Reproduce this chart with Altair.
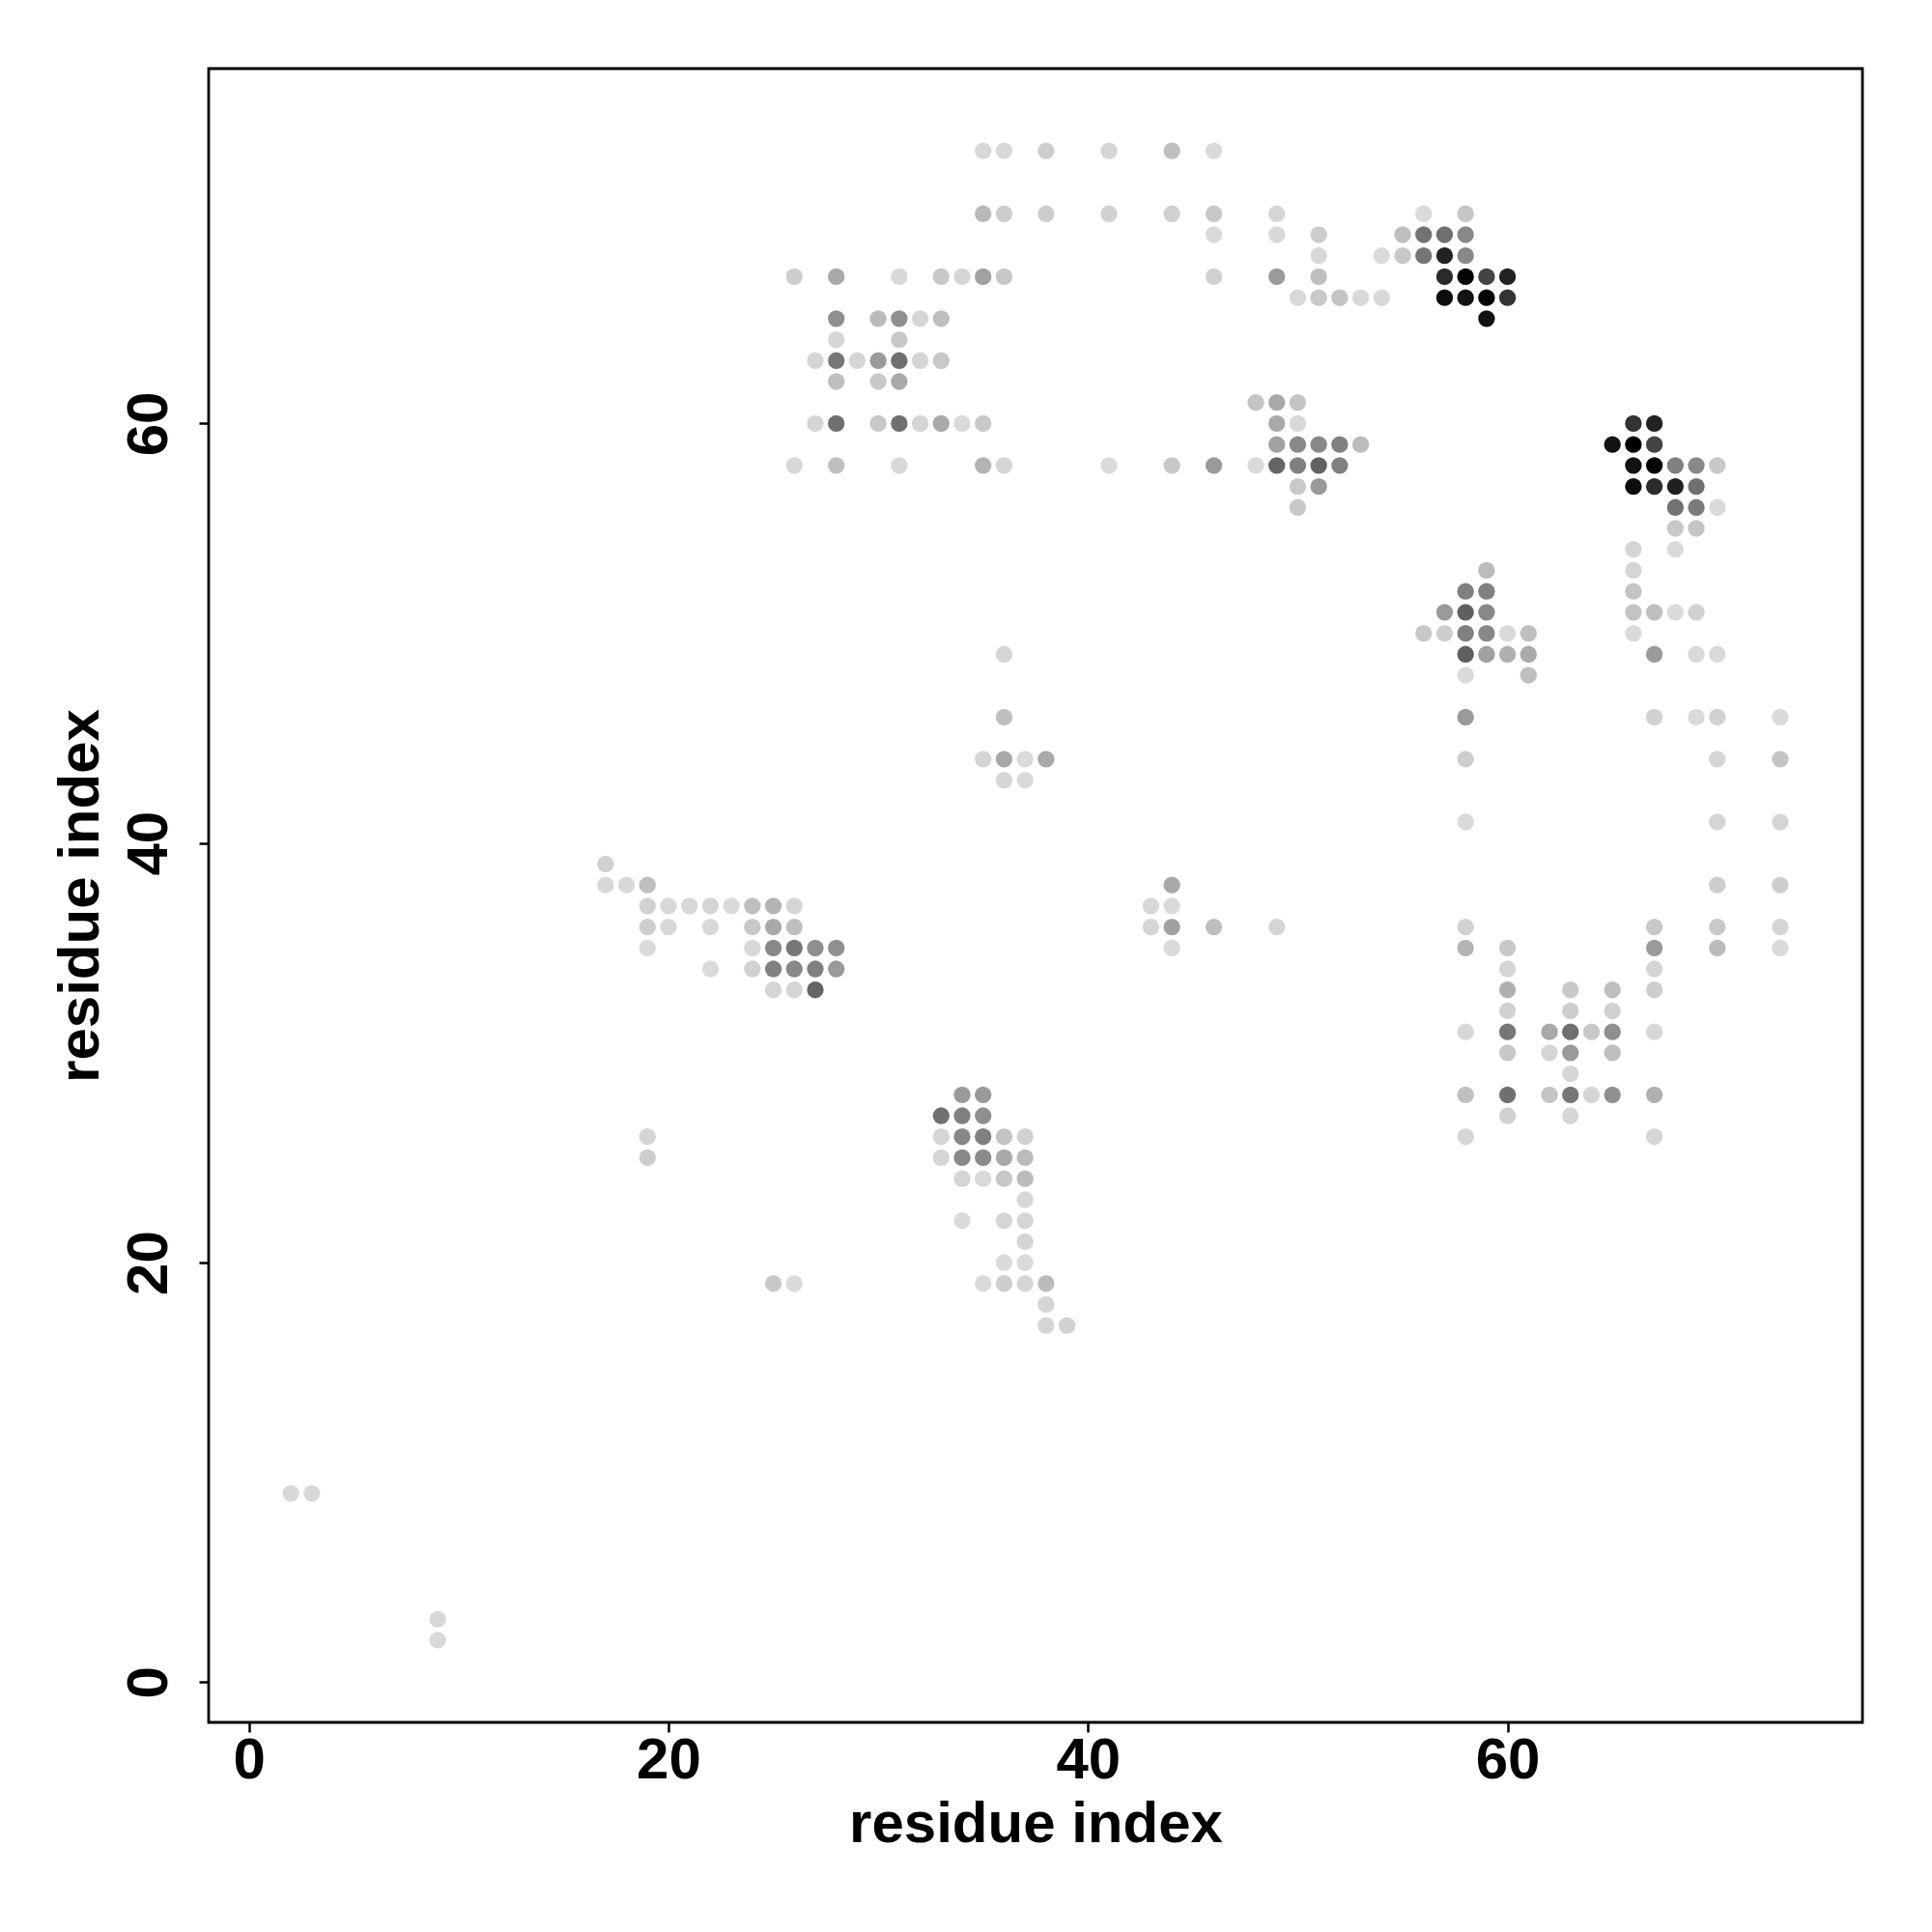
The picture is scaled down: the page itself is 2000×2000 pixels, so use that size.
import altair as alt
import pandas as pd

# contact map: residue i (x), residue j (y), contact score (0..1, darker = stronger)
res_i = [
    35, 36, 38, 41, 44, 46,
    35, 36, 38, 41, 44, 46, 49, 56, 58,
    46, 49, 51, 55, 56, 57, 58,
    51, 54, 55, 56, 57, 58,
    26, 28, 31, 33, 34, 35, 36, 46, 49, 51, 57, 58, 59, 60,
    50, 51, 52, 53, 54, 57, 58, 59, 60,
    28, 30, 31, 32, 33, 59,
    28, 31,
    27, 28, 29, 30, 31, 32, 33,
    28, 30, 31,
    48, 49, 50,
    27, 28, 30, 31, 32, 33, 34, 35, 49, 50, 66, 67,
    49, 50, 51, 52, 53, 65, 66, 67,
    26, 28, 31, 35, 36, 41, 44, 46, 48, 49, 50, 51, 52, 66, 67, 68, 69, 70,
    50, 51, 66, 67, 68, 69,
    50, 68, 69, 70,
    68, 69,
    66, 68,
    59, 66,
    58, 59, 66,
    57, 58, 59, 66, 67, 68, 69,
    56, 57, 58, 59, 60, 61, 66,
    36, 58, 59, 60, 61, 67, 69, 70,
    58, 61,
    36, 58, 67, 69, 70, 73,
    35, 36, 37, 38, 58, 70, 73,
    36, 37,
    58, 70, 73,
    17,
    17, 18, 19, 44, 70, 73,
    19, 20, 21, 22, 23, 24, 25, 26, 43, 44,
    19, 20, 22, 24, 25, 26, 43, 44, 46, 49, 58, 67, 70, 73,
    19, 24, 25, 26, 27, 28, 44, 58, 60, 67, 70, 73,
    22, 24, 25, 26, 27, 28, 60, 67,
    25, 26, 27, 60, 63, 65, 67,
    60, 63, 65,
    58, 60, 62, 63, 64, 65, 67,
    60, 62, 63, 65,
    63,
    34, 35, 58, 60, 62, 63, 64, 65, 67,
    33, 34, 35, 60, 63,
    19, 33, 34, 35, 36, 37, 58, 67,
    19, 33, 34, 35, 36, 37,
    34, 35, 36, 37,
    37,
    34, 36, 37,
    37,
    36, 37,
    25, 26, 35, 36, 37, 38,
    38,
    38, 39,
    2, 3,
    9,
    9,
]

res_j = [
    73, 73, 73, 73, 73, 73,
    70, 70, 70, 70, 70, 70, 70, 70, 70,
    69, 69, 69, 69, 69, 69, 69,
    68, 68, 68, 68, 68, 68,
    67, 67, 67, 67, 67, 67, 67, 67, 67, 67, 67, 67, 67, 67,
    66, 66, 66, 66, 66, 66, 66, 66, 66,
    65, 65, 65, 65, 65, 65,
    64, 64,
    63, 63, 63, 63, 63, 63, 63,
    62, 62, 62,
    61, 61, 61,
    60, 60, 60, 60, 60, 60, 60, 60, 60, 60, 60, 60,
    59, 59, 59, 59, 59, 59, 59, 59,
    58, 58, 58, 58, 58, 58, 58, 58, 58, 58, 58, 58, 58, 58, 58, 58, 58, 58,
    57, 57, 57, 57, 57, 57,
    56, 56, 56, 56,
    55, 55,
    54, 54,
    53, 53,
    52, 52, 52,
    51, 51, 51, 51, 51, 51, 51,
    50, 50, 50, 50, 50, 50, 50,
    49, 49, 49, 49, 49, 49, 49, 49,
    48, 48,
    46, 46, 46, 46, 46, 46,
    44, 44, 44, 44, 44, 44, 44,
    43, 43,
    41, 41, 41,
    39,
    38, 38, 38, 38, 38, 38,
    37, 37, 37, 37, 37, 37, 37, 37, 37, 37,
    36, 36, 36, 36, 36, 36, 36, 36, 36, 36, 36, 36, 36, 36,
    35, 35, 35, 35, 35, 35, 35, 35, 35, 35, 35, 35,
    34, 34, 34, 34, 34, 34, 34, 34,
    33, 33, 33, 33, 33, 33, 33,
    32, 32, 32,
    31, 31, 31, 31, 31, 31, 31,
    30, 30, 30, 30,
    29,
    28, 28, 28, 28, 28, 28, 28, 28, 28,
    27, 27, 27, 27, 27,
    26, 26, 26, 26, 26, 26, 26, 26,
    25, 25, 25, 25, 25, 25,
    24, 24, 24, 24,
    23,
    22, 22, 22,
    21,
    20, 20,
    19, 19, 19, 19, 19, 19,
    18,
    17, 17,
    9, 9,
    3,
    2,
]

score = [
    0.02, 0.02, 0.07, 0.03, 0.13, 0.01,
    0.16, 0.07, 0.07, 0.05, 0.05, 0.09, 0.03, 0.01, 0.10,
    0.01, 0.02, 0.07, 0.13, 0.48, 0.49, 0.38,
    0.02, 0.01, 0.09, 0.47, 0.85, 0.38,
    0.07, 0.23, 0.02, 0.09, 0.03, 0.27, 0.09, 0.05, 0.30, 0.13, 0.81, 0.98, 0.69, 0.85,
    0.02, 0.09, 0.11, 0.02, 0.02, 0.94, 0.91, 1.00, 0.77,
    0.35, 0.15, 0.35, 0.03, 0.13, 0.92,
    0.03, 0.09,
    0.03, 0.46, 0.03, 0.30, 0.49, 0.03, 0.09,
    0.13, 0.09, 0.23,
    0.11, 0.23, 0.11,
    0.03, 0.49, 0.09, 0.49, 0.03, 0.23, 0.01, 0.09, 0.23, 0.02, 0.77, 0.85,
    0.27, 0.38, 0.38, 0.42, 0.15, 0.92, 1.00, 0.69,
    0.02, 0.13, 0.02, 0.18, 0.03, 0.01, 0.09, 0.30, 0.01, 0.54, 0.42, 0.56, 0.42, 0.92, 1.00, 0.42, 0.38, 0.09,
    0.09, 0.30, 0.94, 0.81, 0.86, 0.49,
    0.09, 0.48, 0.44, 0.01,
    0.09, 0.11,
    0.03, 0.01,
    0.15, 0.03,
    0.42, 0.42, 0.11,
    0.30, 0.57, 0.38, 0.11, 0.13, 0.01, 0.05,
    0.09, 0.07, 0.42, 0.38, 0.01, 0.13, 0.01,
    0.03, 0.57, 0.27, 0.20, 0.23, 0.30, 0.01, 0.01,
    0.01, 0.13,
    0.13, 0.30, 0.05, 0.01, 0.05, 0.01,
    0.03, 0.23, 0.01, 0.23, 0.07, 0.03, 0.11,
    0.03, 0.01,
    0.01, 0.03, 0.03,
    0.05,
    0.02, 0.02, 0.13, 0.23, 0.07, 0.07,
    0.05, 0.02, 0.02, 0.03, 0.01, 0.13, 0.18, 0.03, 0.02, 0.01,
    0.07, 0.02, 0.02, 0.09, 0.23, 0.13, 0.03, 0.27, 0.13, 0.03, 0.05, 0.09, 0.09, 0.03,
    0.01, 0.02, 0.38, 0.46, 0.35, 0.35, 0.01, 0.18, 0.09, 0.30, 0.15, 0.01,
    0.01, 0.05, 0.42, 0.38, 0.42, 0.30, 0.03, 0.03,
    0.03, 0.03, 0.54, 0.20, 0.09, 0.13, 0.07,
    0.05, 0.07, 0.05,
    0.02, 0.46, 0.23, 0.49, 0.09, 0.35, 0.02,
    0.09, 0.03, 0.30, 0.13,
    0.03,
    0.30, 0.30, 0.13, 0.49, 0.11, 0.46, 0.03, 0.35, 0.20,
    0.49, 0.42, 0.35, 0.05, 0.03,
    0.03, 0.03, 0.38, 0.42, 0.11, 0.05, 0.03, 0.03,
    0.07, 0.03, 0.38, 0.37, 0.23, 0.15,
    0.03, 0.01, 0.09, 0.15,
    0.02,
    0.01, 0.03, 0.03,
    0.03,
    0.01, 0.01,
    0.09, 0.01, 0.01, 0.07, 0.03, 0.15,
    0.03,
    0.03, 0.05,
    0.02, 0.02,
    0.02,
    0.02,
]

tick_values = [0, 20, 40, 60]
axis_domain = [-1.92, 76.92]

df = pd.DataFrame({"i": res_i, "j": res_j, "score": score})

FONT = "Liberation Sans"
W = 1712
H = 1712

x_axis = alt.Axis(
    values=tick_values, title="residue index", grid=False, domain=False,
    ticks=True, tickSize=10, tickWidth=2.5, tickColor="black",
    labelFont=FONT, labelFontSize=60, labelFontWeight="bold", labelColor="black",
    labelAlign="center", labelBaseline="alphabetic", labelPadding=47,
    labelFlush=False, labelOverlap=False, labelBound=False,
    titleFont=FONT, titleFontSize=60, titleFontWeight="bold", titleColor="black",
    titleAlign="center", titleBaseline="alphabetic", titleAngle=0,
    titleX=W / 2, titleY=123,
)
y_axis = alt.Axis(
    values=tick_values, title="residue index", grid=False, domain=False,
    ticks=True, tickSize=10, tickWidth=2.5, tickColor="black",
    labelFont=FONT, labelFontSize=60, labelFontWeight="bold", labelColor="black",
    labelAngle=270, labelAlign="center", labelBaseline="alphabetic", labelPadding=34,
    labelFlush=False, labelOverlap=False, labelBound=False,
    titleFont=FONT, titleFontSize=60, titleFontWeight="bold", titleColor="black",
    titleAlign="center", titleBaseline="alphabetic", titleAngle=270,
    titleX=-115, titleY=H / 2,
)

chart = (
    alt.Chart(df)
    .mark_circle(size=300, opacity=1, strokeWidth=0)
    .encode(
        x=alt.X("i:Q", scale=alt.Scale(domain=axis_domain, nice=False, zero=False), axis=x_axis),
        y=alt.Y("j:Q", scale=alt.Scale(domain=axis_domain, nice=False, zero=False), axis=y_axis),
        color=alt.Color(
            "score:Q",
            scale=alt.Scale(domain=[0, 1], range=["#dcdcdc", "#000000"], interpolate="rgb"),
            legend=None,
        ),
        order=alt.Order("score:Q"),
    )
    .properties(
        width=W,
        height=H,
        autosize=alt.AutoSizeParams(type="none"),
        padding={"left": 208, "top": 63, "right": 64, "bottom": 209},
        background="white",
    )
    .configure_view(stroke="black", strokeWidth=2.8)
)

chart.save("out.html", embed_options={"renderer": "svg", "actions": False})
